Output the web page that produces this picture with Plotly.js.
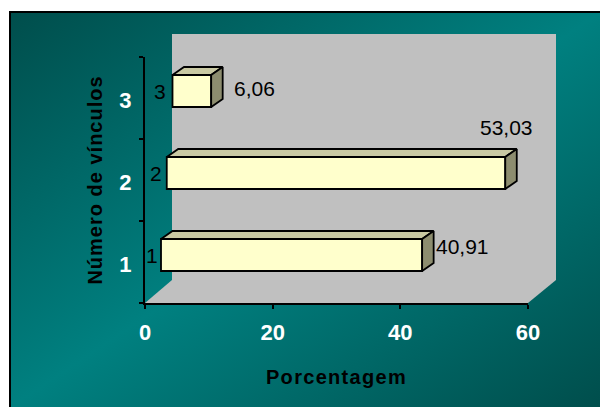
<!DOCTYPE html>
<html>
<head>
<meta charset="utf-8">
<script src="https://cdn.plot.ly/plotly-3.0.1.min.js"></script>
<style>
  html, body { margin: 0; padding: 0; background: #ffffff; }
  #frame {
    position: absolute; left: 9px; top: 11px; width: 591px; height: 396px;
    box-sizing: border-box;
    border-top: 2px solid #000; border-left: 2px solid #000;
    background: linear-gradient(to bottom right, #004e4c 0%, #008080 50%, #004e4c 100%);
  }
  #chart { position: absolute; left: 0; top: 0; width: 600px; height: 407px; }
  #chart .xtitle { letter-spacing: 1.3px; }
  #chart .ytitle { letter-spacing: 1px; }
</style>
</head>
<body>
<div id="frame"></div>
<div id="chart"></div>
<script>
// Número de vínculos vs. percentage
const categories = [1, 2, 3];
const percentages = [40.91, 53.03, 6.06];
const xTickValues = [0, 20, 40, 60];
const xTitle = 'Porcentagem';
const yTitle = 'Número de vínculos';

// ---- page geometry ----
const W = 600, H = 407;
const M = { l: 145, r: 72, t: 57, b: 104 };
const X_RANGE = [0, 60];
const Y_RANGE = [0.5, 3.5];
const plotW = W - M.l - M.r, plotH = H - M.t - M.b;
const pxPerX = plotW / (X_RANGE[1] - X_RANGE[0]);
const pxPerY = plotH / (Y_RANGE[1] - Y_RANGE[0]);
const toX = px => px / pxPerX;     // horizontal pixels -> x units
const toY = px => px / pxPerY;     // vertical pixels -> y units

// 3-D look: bars are pushed right/up by the oblique projection
const barThick = toY(32);
const barLift = toY(7);
const depthX = toX(11.5), depthY = toY(8);
const baseShift = categories.map((c, i) => toX(16 + 5.75 * i));
const barCenter = categories.map(c => c + barLift);

const FONT = '"Liberation Sans", Arial, Helvetica, sans-serif';
const fmt = v => v.toFixed(2).replace('.', ',');

// top and side faces of every bar
const topX = [], topY = [], sideX = [], sideY = [];
percentages.forEach((v, i) => {
  const b = baseShift[i], e = b + v;
  const yt = barCenter[i] + barThick / 2, yb = barCenter[i] - barThick / 2;
  topX.push(b, e, e + depthX, b + depthX, b, null);
  topY.push(yt, yt, yt + depthY, yt + depthY, yt, null);
  sideX.push(e, e, e + depthX, e + depthX, e, null);
  sideY.push(yb, yt, yt + depthY, yb + depthY, yb, null);
});

const edge = { color: '#000000', width: 1.8 };

const traces = [
  {
    type: 'bar', orientation: 'h',
    y: barCenter, x: percentages, base: baseShift, width: barThick,
    marker: { color: '#FFFFCC', line: edge },
    hoverinfo: 'skip', showlegend: false
  },
  {
    type: 'scatter', mode: 'lines', x: topX, y: topY,
    fill: 'toself', fillcolor: '#C9C9A3', line: edge,
    hoverinfo: 'skip', showlegend: false
  },
  {
    type: 'scatter', mode: 'lines', x: sideX, y: sideY,
    fill: 'toself', fillcolor: '#8D8D6F', line: edge,
    hoverinfo: 'skip', showlegend: false
  }
];

// value labels and category labels
const valueNudge = [[12, 9], [-27, 46], [21, 3]];
const nameNudge = [-1, -3, -5];
const annotations = [];
percentages.forEach((v, i) => {
  annotations.push({
    x: baseShift[i] + v, y: barCenter[i], xref: 'x', yref: 'y',
    text: fmt(v), showarrow: false, xanchor: 'left', yanchor: 'middle',
    xshift: valueNudge[i][0], yshift: valueNudge[i][1],
    font: { family: FONT, size: 21, color: '#000000' }
  });
  annotations.push({
    x: baseShift[i], y: barCenter[i], xref: 'x', yref: 'y',
    text: String(categories[i]), showarrow: false, xanchor: 'right', yanchor: 'middle',
    xshift: nameNudge[i], yshift: 0,
    font: { family: FONT, size: 21, color: '#000000' }
  });
});

// back wall and floor (paper coordinates of the plot box)
const px2paperX = px => (px - M.l) / plotW;
const px2paperY = py => (H - M.b - py) / plotH;
const wallL = px2paperX(172), wallR = px2paperX(556);
const wallB = px2paperY(280), wallT = px2paperY(34);
const shapes = [
  {
    type: 'rect', xref: 'paper', yref: 'paper', layer: 'below',
    x0: wallL, x1: wallR, y0: wallB, y1: wallT,
    fillcolor: '#C0C0C0', line: { width: 0 }
  },
  {
    type: 'path', xref: 'paper', yref: 'paper', layer: 'below',
    path: `M 0 0 L 1 0 L ${wallR} ${wallB} L ${wallL} ${wallB} Z`,
    fillcolor: '#C0C0C0', line: { width: 0 }
  }
];

const layout = {
  width: W, height: H,
  margin: M,
  paper_bgcolor: 'rgba(0,0,0,0)',
  plot_bgcolor: 'rgba(0,0,0,0)',
  showlegend: false,
  bargap: 0,
  xaxis: {
    range: X_RANGE, tickmode: 'array', tickvals: xTickValues,
    ticks: 'outside', ticklen: 4, tickwidth: 2, tickcolor: '#000',
    showline: true, linecolor: '#000', linewidth: 2,
    showgrid: false, zeroline: false, fixedrange: true,
    tickfont: { family: FONT, size: 22, color: '#FFFFFF', weight: 'bold' },
    ticklabelstandoff: 5,
    title: { text: xTitle, standoff: 26,
             font: { family: FONT, size: 20, color: '#000000', weight: 'bold' } }
  },
  yaxis: {
    range: Y_RANGE, tickmode: 'array', tickvals: categories,
    ticktext: categories.map(String),
    ticks: '', showline: true, linecolor: '#000', linewidth: 2,
    showgrid: false, zeroline: false, fixedrange: true,
    tickfont: { family: FONT, size: 22, color: '#FFFFFF', weight: 'bold' },
    ticklabelstandoff: 7, ticklabelshift: 2,
    minor: { tickmode: 'array', tickvals: [0.5, 1.5, 2.5, 3.5],
             ticks: 'outside', ticklen: 4, tickwidth: 2, tickcolor: '#000', showgrid: false },
    title: { text: yTitle, standoff: 11,
             font: { family: FONT, size: 20, color: '#000000', weight: 'bold' } }
  },
  shapes: shapes,
  annotations: annotations
};

Plotly.newPlot('chart', traces, layout, { staticPlot: true, displayModeBar: false });
</script>
</body>
</html>
